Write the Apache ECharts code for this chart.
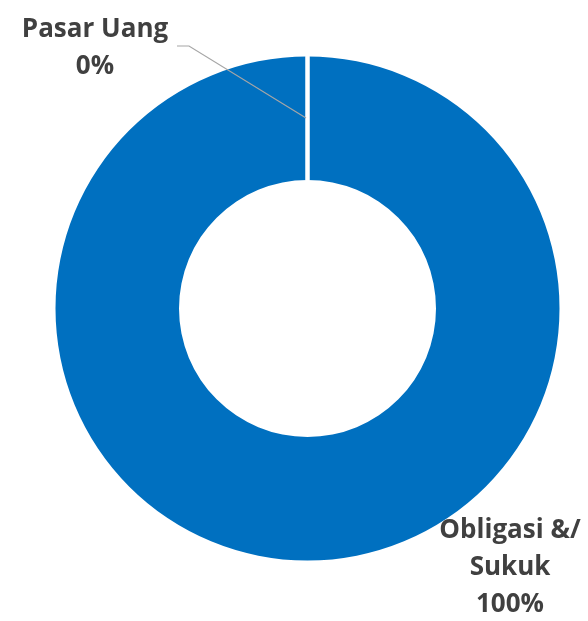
<!DOCTYPE html>
<html>
<head>
<meta charset="utf-8">
<script src="https://cdn.jsdelivr.net/npm/echarts@6/dist/echarts.min.js"></script>
<style>
  html, body { margin: 0; padding: 0; background: #fff; }
  #pieChart { width: 588px; height: 621px; }
</style>
</head>
<body>
<div id="pieChart"></div>
<script>
  // data
  var categories = ['Obligasi &/\nSukuk', 'Pasar Uang'];
  var values = [100, 0];

  // where the labels sit (centre of the text block)
  var labelSpots = [[510, 567.5], [95, 48.5]];

  var chart = echarts.init(document.getElementById('pieChart'));

  var pieBase = {
    type: 'pie',
    center: [307.5, 308.5],
    radius: [128.5, 252],
    startAngle: 90,
    clockwise: true,
    avoidLabelOverlap: false
  };

  chart.setOption({
    backgroundColor: '#fff',
    animation: false,
    series: [
      // the ring itself
      Object.assign({}, pieBase, {
        z: 2,
        label: { show: false },
        labelLine: { show: false },
        data: categories.map(function (c, i) {
          return {
            name: c,
            value: values[i],
            itemStyle: i === 0
              ? { color: '#0070c0' }
              : { color: '#fff', borderColor: '#fff', borderWidth: 4.5 }
          };
        })
      }),
      // same data again, invisible, only to put labels and leader line on top
      Object.assign({}, pieBase, {
        z: 5,
        silent: true,
        itemStyle: { color: 'rgba(0,0,0,0)', borderWidth: 0 },
        label: {
          show: true,
          position: 'outside',
          formatter: '{b}\n{d}%',
          color: '#404040',
          fontFamily: 'Open Sans',
          fontWeight: 'bold',
          fontSize: 26,
          lineHeight: 37,
          align: 'center'
        },
        labelLine: {
          show: true,
          showAbove: true,
          lineStyle: { color: '#a6a6a6', width: 1.2 }
        },
        labelLayout: function (p) {
          var s = labelSpots[p.dataIndex];
          var out = { x: s[0], y: s[1], align: 'center', verticalAlign: 'middle' };
          if (p.dataIndex === 1) {
            out.labelLinePoints = [[306, 118], [189, 46], [177, 46]];
          }
          return out;
        },
        data: categories.map(function (c, i) {
          var item = { name: c, value: values[i] };
          if (i === 0) item.labelLine = { show: false };
          return item;
        })
      })
    ]
  });
</script>
</body>
</html>
